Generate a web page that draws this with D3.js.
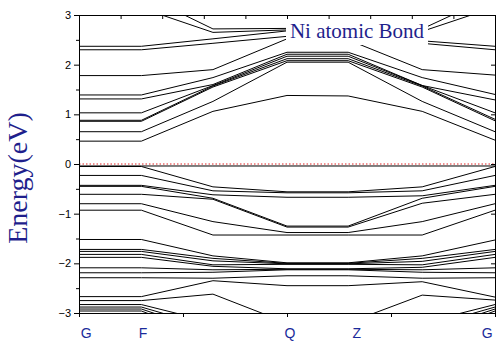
<!DOCTYPE html>
<html lang="en">
<head>
    <meta charset="UTF-8">
    <title>Ni atomic Bond - band structure</title>
    <script src="https://d3js.org/d3.v7.min.js"></script>
    <style>
        body { margin: 0; background: #fff; }
        .band { fill: none; stroke: #000; stroke-width: 1; }
        .fermi { stroke: #e02020; stroke-width: 1; stroke-dasharray: 1.5,2; }
        .axis path, .axis line { stroke: #000; }
        .axis text { font-family: "Liberation Sans", Arial, sans-serif; font-size: 11px; fill: #000; }
        .klabel { font-family: "Liberation Sans", Arial, sans-serif; font-size: 14px; fill: #1a2a9a; }
        .title { font-family: "Liberation Serif", "Times New Roman", serif; font-size: 21px; fill: #1f1f8c; }
        .ylabel { font-family: "Liberation Serif", "Times New Roman", serif; font-size: 28px; fill: #1f1f8c; }
    </style>
</head>
<body>
    <div id="chart"></div>
    <script>
        // k-path positions: G, F, (mid), Q, Z, (mid), G
        const kpath = [0, 1.5, 3.22, 5, 6.47, 8.25, 10];
        const kLabels = ["G", "F", "Q", "Z", "G"];
        const kLabelPos = [0.17, 1.54, 5.07, 6.68, 9.81];
        const yTicks = [-3, -2, -1, 0, 1, 2, 3];

        // conduction bands, energies (eV) at each kpath point
        const conduction = [
            [3.14, 3.14, 2.65, 2.70, 2.70, 2.67, 3.16],
            [3.42, 3.42, 2.72, 2.73, 2.73, 2.72, 3.40],
            [2.37, 2.37, 2.52, 2.68, 2.68, 2.48, 2.37],
            [2.30, 2.30, 2.43, 2.57, 2.57, 2.43, 2.30],
            [1.78, 1.78, 1.90, 2.52, 2.50, 1.90, 1.79],
            [1.39, 1.39, 1.74, 2.25, 2.25, 1.74, 1.40],
            [1.31, 1.31, 1.60, 2.21, 2.21, 1.58, 1.29],
            [1.03, 1.03, 1.58, 2.17, 2.17, 1.58, 1.03],
            [0.88, 0.88, 1.57, 2.12, 2.12, 1.57, 0.90],
            [0.86, 0.86, 1.55, 2.08, 2.08, 1.55, 0.87],
            [0.65, 0.65, 1.26, 2.05, 2.05, 1.26, 0.65],
            [0.46, 0.46, 1.06, 1.38, 1.37, 1.06, 0.48]
        ];

        // valence bands
        const valence = [
            [-0.04, -0.04, -0.04, -0.04, -0.04, -0.04, -0.04],
            [-0.05, -0.05, -0.46, -0.56, -0.56, -0.46, -0.05],
            [-0.23, -0.23, -0.54, -0.58, -0.58, -0.54, -0.23],
            [-0.43, -0.43, -0.62, -0.67, -0.67, -0.64, -0.43],
            [-0.45, -0.45, -0.69, -1.25, -1.25, -0.69, -0.45],
            [-0.61, -0.61, -0.71, -1.27, -1.27, -0.79, -0.61],
            [-0.80, -0.80, -1.16, -1.38, -1.38, -1.16, -0.80],
            [-0.93, -0.93, -1.43, -1.43, -1.43, -1.43, -0.93],
            [-1.52, -1.52, -1.85, -1.99, -1.99, -1.85, -1.53],
            [-1.72, -1.72, -1.90, -2.00, -2.00, -1.90, -1.72],
            [-1.76, -1.76, -1.95, -2.01, -2.01, -1.96, -1.76],
            [-1.82, -1.82, -2.03, -2.02, -2.02, -2.03, -1.82],
            [-1.88, -1.88, -2.06, -2.11, -2.11, -2.08, -1.88],
            [-2.09, -2.09, -2.13, -2.12, -2.12, -2.13, -2.09],
            [-2.19, -2.19, -2.18, -2.13, -2.13, -2.18, -2.19],
            [-2.29, -2.29, -2.30, -2.25, -2.25, -2.30, -2.29],
            [-2.67, -2.67, -2.35, -2.45, -2.45, -2.37, -2.68],
            [-2.75, -2.75, -2.62, -3.20, -3.20, -2.64, -2.74],
            [-2.83, -2.83, -3.19, -3.50, -3.50, -3.20, -2.83],
            [-2.88, -2.88, -3.30, -3.60, -3.60, -3.30, -2.88],
            [-2.92, -2.92, -3.40, -3.70, -3.70, -3.40, -2.92],
            [-2.96, -2.96, -3.50, -3.80, -3.80, -3.50, -2.96]
        ];

        const margin = {top: 15, right: 1, bottom: 34, left: 79};
        const width = 496 - margin.left - margin.right;
        const height = 347 - margin.top - margin.bottom;

        const svg = d3.select("#chart").append("svg")
            .attr("width", 496)
            .attr("height", 347);

        const g = svg.append("g")
            .attr("transform", `translate(${margin.left},${margin.top})`);

        const x = d3.scaleLinear().domain([0, 10]).range([0, width]);
        const y = d3.scaleLinear().domain([-3, 3]).range([height, 0]);

        g.append("clipPath").attr("id", "plot-clip")
          .append("rect")
            .attr("width", width)
            .attr("height", height);

        const line = d3.line()
            .x((d, i) => x(kpath[i]))
            .y(d => y(d));

        const plot = g.append("g").attr("clip-path", "url(#plot-clip)");

        plot.selectAll(".band")
            .data(conduction.concat(valence))
            .enter().append("path")
            .attr("class", "band")
            .attr("d", line);

        // Fermi level
        plot.append("line")
            .attr("class", "fermi")
            .attr("x1", 0)
            .attr("x2", width)
            .attr("y1", y(0))
            .attr("y2", y(0));

        // title box
        const tx = 357, ty = 38;
        g.append("rect")
            .attr("x", tx - 71 - margin.left)
            .attr("y", 19 - margin.top)
            .attr("width", 142)
            .attr("height", 26)
            .attr("fill", "#fff");
        g.append("text")
            .attr("class", "title")
            .attr("x", tx - margin.left)
            .attr("y", ty - margin.top)
            .attr("text-anchor", "middle")
            .text("Ni atomic Bond");

        // axes
        g.append("g")
            .attr("class", "axis")
            .call(d3.axisLeft(y).tickValues(yTicks).tickSize(5).tickPadding(3).tickFormat(d3.format("d")));
        g.append("g")
            .attr("class", "axis")
            .call(d3.axisLeft(y).tickValues(d3.range(-2.5, 3, 1)).tickSize(3).tickFormat(""))
            .select(".domain").remove();
        g.append("g")
            .attr("class", "axis")
            .attr("transform", `translate(${width},0)`)
            .call(d3.axisRight(y).tickValues(yTicks).tickSize(-4).tickFormat(""));
        g.append("g")
            .attr("class", "axis")
            .call(d3.axisTop(x).tickValues(d3.range(0, 11, 1)).tickSize(-4).tickFormat(""));
        g.append("g")
            .attr("class", "axis")
            .attr("transform", `translate(0,${height})`)
            .call(d3.axisBottom(x).tickValues([0, 2.5, 5, 7.5, 10]).tickSize(4).tickFormat(""));

        g.selectAll(".klabel")
            .data(kLabels)
            .enter().append("text")
            .attr("class", "klabel")
            .attr("x", (d, i) => x(kLabelPos[i]))
            .attr("y", height + 25)
            .attr("text-anchor", "middle")
            .text(d => d);

        svg.append("text")
            .attr("class", "ylabel")
            .attr("transform", "translate(27,178) rotate(-90)")
            .attr("text-anchor", "middle")
            .text("Energy(eV)");
    </script>
</body>
</html>
